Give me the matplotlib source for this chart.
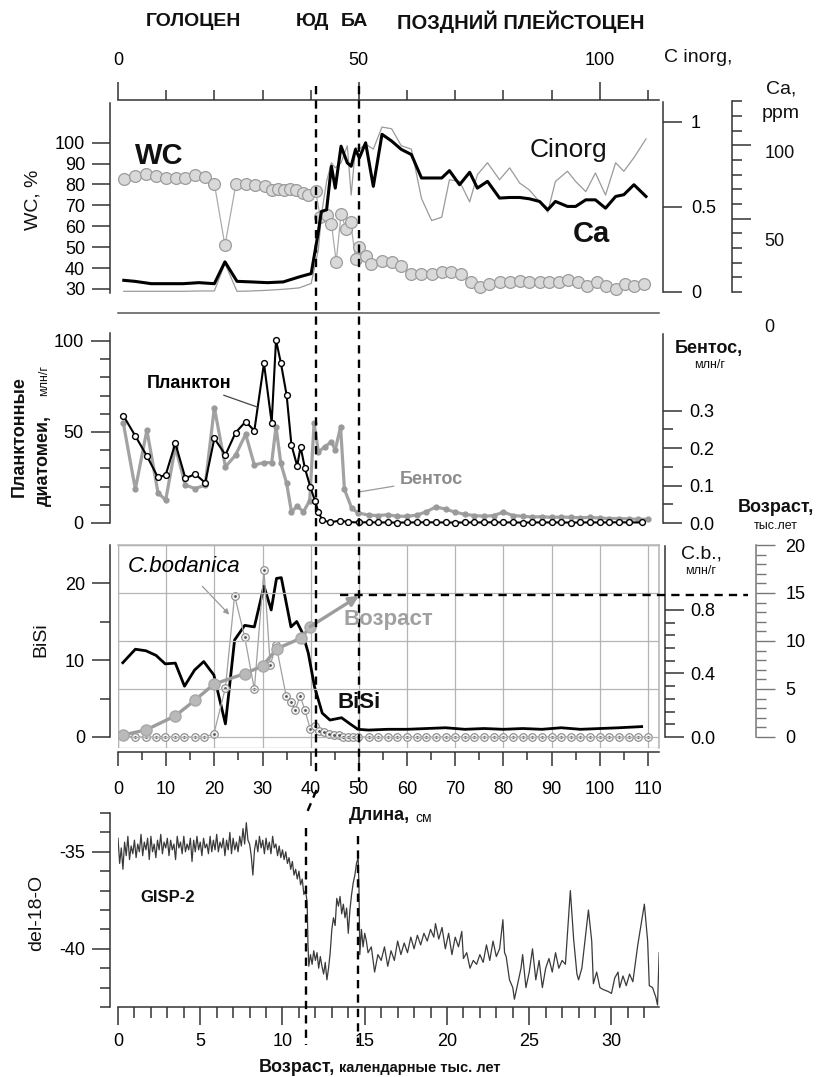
import matplotlib
matplotlib.use('Agg')
import matplotlib.pyplot as plt
import matplotlib.transforms as mtransforms
from matplotlib.lines import Line2D
from matplotlib.patches import Rectangle
from matplotlib.ticker import MultipleLocator, FixedLocator

plt.rcParams['font.family'] = ['Liberation Sans Narrow', 'Liberation Sans', 'DejaVu Sans']
plt.rcParams['axes.unicode_minus'] = False
WIDE = ['Liberation Sans', 'DejaVu Sans']

# ---- panel 1: water content, Ca, C inorg vs depth (cm)
wc_cm = [1.2, 3.5, 5.8, 7.9, 9.9, 12.0, 14.0, 16.0, 18.0, 20.0, 22.2, 24.5, 26.5, 28.5,
         30.5, 32.0, 33.3, 34.5, 35.8, 37.0, 38.3, 39.5, 41.0, 42.0, 43.3, 44.3, 45.3,
         46.3, 47.3, 48.3, 49.3, 50.1, 51.4, 52.6, 54.8, 56.8, 58.8, 60.9, 63.0, 65.1,
         67.2, 69.2, 71.1, 73.2, 75.1, 77.1, 79.2, 81.3, 83.4, 85.4, 87.5, 89.4, 91.5,
         93.5, 95.4, 97.3, 99.4, 101.2, 103.3, 105.2, 107.1, 109.1]
wc = [82.8, 84.0, 85.0, 84.0, 83.0, 83.0, 83.0, 84.4, 83.6, 80.4, 50.8, 80.4, 80.4, 79.6,
      79.3, 77.2, 78.0, 77.2, 78.0, 77.2, 76.0, 74.8, 77.0, 64.4, 65.2, 61.2, 43.0,
      66.0, 58.8, 62.0, 44.4, 50.0, 46.0, 42.0, 43.6, 43.0, 41.2, 37.2, 37.2, 37.2,
      38.3, 38.0, 37.2, 33.2, 30.8, 32.4, 33.2, 33.5, 34.0, 33.5, 33.5, 33.5, 33.5,
      34.5, 33.5, 31.6, 33.2, 31.6, 30.0, 32.4, 31.6, 32.4]

ca_cm = [1.2, 3.5, 6.9, 10.2, 13.5, 16.8, 20.0, 22.2, 24.7, 27.7, 31.0, 34.3, 37.6, 40.1,
         41.6, 42.2, 43.3, 44.3, 45.1, 46.3, 47.6, 48.4, 49.3, 50.1, 51.4, 53.0, 54.8,
         56.8, 58.8, 60.9, 63.0, 65.1, 67.2, 68.8, 70.9, 73.0, 74.6, 76.7, 79.2, 81.3,
         83.4, 85.4, 87.5, 89.2, 90.8, 93.3, 95.0, 97.1, 99.1, 101.2, 103.3, 105.0,
         107.1, 109.6]
ca = [8.0, 7.3, 5.7, 5.7, 5.7, 6.4, 5.7, 20.6, 7.3, 6.9, 6.4, 6.9, 10.3, 12.6,
      41.2, 54.9, 56.1, 85.8, 70.9, 99.5, 88.1, 85.8, 97.3, 91.5, 101.8, 72.1, 107.6,
      103.0, 97.3, 93.8, 77.8, 77.8, 77.8, 82.8, 73.2, 81.7, 70.9, 75.5, 64.1, 64.5,
      64.5, 63.6, 61.8, 56.1, 61.8, 58.4, 58.4, 62.9, 62.9, 57.2, 65.2, 66.4,
      73.2, 65.2]
cinorg = [0.004, 0.004, 0.004, 0.004, 0.004, 0.006, 0.006, 0.168, 0.004, 0.006, 0.01,
          0.016, 0.024, 0.05, 0.25, 0.45, 0.65, 0.76, 0.73, 0.76, 0.86, 0.57, 0.85, 0.84,
          0.87, 0.84, 0.97, 0.96, 0.86, 0.84, 0.55, 0.42, 0.44, 0.66, 0.65, 0.53, 0.69,
          0.76, 0.66, 0.73, 0.64, 0.60, 0.53, 0.47, 0.65, 0.71, 0.65, 0.59, 0.70, 0.57,
          0.76, 0.71, 0.79, 0.90]

# ---- panel 2: diatoms
pl_cm = [1.1, 3.6, 6.0, 8.3, 9.9, 11.9, 14.0, 16.0, 18.1, 20.0, 22.3, 24.4, 26.5, 28.3,
         30.3, 31.9, 32.8, 33.8, 35.0, 36.0, 37.2, 37.9, 38.8, 39.9, 40.9, 41.6, 42.4,
         44.0, 46.0, 47.8, 50, 52, 54, 56, 58, 60, 62, 64, 66, 68, 70, 72, 74, 76, 78,
         80, 82, 84, 86, 88, 90, 92, 94, 96, 98, 100, 102, 104, 106, 108.7]
plankton = [59, 47.8, 36.8, 25, 26.4, 43.8, 24.5, 26.9, 22.1, 46.5, 37.4, 49.6, 55.7, 50.7,
            87.7, 55.1, 100.5, 88, 70.3, 42.9, 31.3, 41.9, 30, 20, 12, 6, 1.6,
            0.3, 1.3, 0.5, 0.3, 0.4, 0.3, 0.3, 0.2, 0.3, 0.3, 0.4, 0.3, 0.3, 0.2, 0.3, 0.3,
            0.3, 0.4, 0.3, 0.3, 0.2, 0.3, 0.3, 0.3, 0.3, 0.2, 0.3, 0.3, 0.3, 0.3, 0.4, 0.3, 0.3]

bn_cm = [1.1, 3.6, 6.0, 8.3, 9.9, 11.9, 14.0, 16.0, 18.1, 20.0, 22.3, 24.4, 26.5, 28.3,
         30.3, 31.9, 32.8, 33.8, 35.0, 36.0, 37.2, 38.5, 39.8, 40.7, 41.6, 42.9, 44.3,
         45.1, 46.2, 47.0, 48.5, 49.8, 52, 54, 56, 58, 60, 62, 64, 66, 68, 70, 72, 74,
         76, 78, 80, 82, 84, 86, 88, 90, 92, 94, 96, 98, 100, 102, 104, 106, 108, 110]
benthos = [0.267, 0.09, 0.248, 0.081, 0.061, 0.203, 0.101, 0.092, 0.101, 0.308, 0.150,
           0.181, 0.237, 0.155, 0.161, 0.161, 0.257, 0.159, 0.106, 0.03, 0.045, 0.03, 0.06,
           0.267, 0.19, 0.203, 0.217, 0.195, 0.257, 0.09, 0.04, 0.027, 0.021, 0.02, 0.022,
           0.018, 0.018, 0.021, 0.03, 0.043, 0.037, 0.029, 0.023, 0.02, 0.018, 0.02, 0.029,
           0.02, 0.018, 0.016, 0.017, 0.015, 0.016, 0.015, 0.014, 0.015, 0.013, 0.012,
           0.012, 0.011, 0.010, 0.010]

# ---- panel 3: BiSi, C. bodanica, age model
bs_cm = [1.0, 3.6, 5.8, 7.9, 9.8, 11.9, 13.8, 15.9, 17.8, 19.9, 22.3, 24.2, 26.3, 28.3,
         30.3, 31.8, 32.9, 33.9, 35.9, 37.1, 38.3, 39.5, 40.8, 42.4, 44.0, 46.4, 48.4,
         49.8, 52, 56, 60, 64, 68, 72, 76, 80, 84, 88, 92, 96, 100, 104, 108.7]
bisi = [9.65, 11.4, 11.2, 10.6, 9.5, 9.6, 6.6, 8.7, 9.8, 8.05, 1.7, 12.6, 14.5, 14.3,
        19.6, 16.5, 20.6, 20.7, 14.3, 15.0, 13.5, 10.9, 6.5, 3.1, 2.2, 2.5, 1.6,
        1.0, 0.9, 1.0, 1.0, 1.1, 1.2, 1.0, 1.1, 1.0, 1.1, 1.0, 1.2, 1.0, 1.1, 1.2, 1.35]

cb_cm = [1.0, 3.6, 5.8, 7.9, 9.8, 11.9, 13.8, 15.9, 17.8, 19.9, 22.3, 24.2, 26.3, 28.3,
         30.3, 31.6, 32.8, 34.9, 35.9, 36.8, 37.8, 38.8, 39.9, 40.8, 41.8, 42.8, 43.8,
         44.8, 45.8, 46.8, 47.8, 48.8, 49.8, 52, 54, 56, 58, 60, 62, 64, 66, 68, 70, 72,
         74, 76, 78, 80, 82, 84, 86, 88, 90, 92, 94, 96, 98, 100, 102, 104, 106, 108, 110]
cbod = [0.01, 0, 0, 0, 0, 0, 0, 0, 0, 0.02, 0.31, 0.89, 0.63, 0.30,
        1.05, 0.45, 0.58, 0.26, 0.22, 0.17, 0.26, 0.17, 0.05, 0.07, 0.04, 0.03, 0.02,
        0.01, 0.01, 0, 0, 0, 0, 0, 0, 0, 0, 0, 0, 0, 0, 0, 0, 0,
        0, 0, 0, 0, 0, 0, 0, 0, 0, 0, 0, 0, 0, 0, 0, 0, 0, 0, 0]

ag_cm = [1.0, 5.8, 11.9, 15.9, 19.9, 26.3, 30.0, 33.0, 38.0, 39.9]
ag_ka = [0.2, 0.73, 2.2, 3.8, 5.5, 6.6, 7.4, 9.2, 10.3, 11.5]

# boundaries: Younger Dryas / Bolling-Allerod
YD_CM, BA_CM = 41.2, 50.0
YD_KA, BA_KA = 11.45, 14.6

# ---- panel 4: GISP-2 del-18-O
gisp_age = [
    0.0, 0.1, 0.2, 0.3, 0.4, 0.5, 0.6, 0.7, 0.8, 0.9,
    1.0, 1.1, 1.2, 1.3, 1.4, 1.5, 1.6, 1.7, 1.8, 1.9,
    2.0, 2.1, 2.2, 2.3, 2.4, 2.5, 2.6, 2.7, 2.8, 2.9,
    3.0, 3.1, 3.2, 3.3, 3.4, 3.5, 3.6, 3.7, 3.8, 3.9,
    4.0, 4.1, 4.2, 4.3, 4.4, 4.5, 4.6, 4.7, 4.8, 4.9,
    5.0, 5.1, 5.2, 5.3, 5.4, 5.5, 5.6, 5.7, 5.8, 5.9,
    6.0, 6.1, 6.2, 6.3, 6.4, 6.5, 6.6, 6.7, 6.8, 6.9,
    7.0, 7.1, 7.2, 7.3, 7.4, 7.5, 7.6, 7.7, 7.8, 7.9,
    8.0, 8.1, 8.2, 8.3, 8.4, 8.5, 8.6, 8.7, 8.8, 8.9,
    9.0, 9.1, 9.2, 9.3, 9.4, 9.5, 9.6, 9.7, 9.8, 9.9,
    10.0, 10.1, 10.2, 10.3, 10.4, 10.5, 10.6, 10.7, 10.8, 10.9,
    11.0, 11.1, 11.2, 11.3, 11.4,
    11.5, 11.55, 11.6, 11.7, 11.8, 11.9, 12.0, 12.1, 12.2, 12.3, 12.4, 12.5, 12.6,
    12.7, 12.8, 12.9, 13.0, 13.1, 13.2, 13.3, 13.4, 13.5, 13.6, 13.7, 13.8, 13.9,
    14.0, 14.1, 14.2, 14.3, 14.4, 14.5, 14.6, 14.65, 14.7, 14.8, 14.9, 15.0, 15.1,
    15.2, 15.4, 15.6, 15.8, 16.0, 16.2, 16.4, 16.6, 16.8, 17.0, 17.2, 17.4, 17.6,
    17.8, 18.0, 18.2, 18.4, 18.6, 18.8, 19.0, 19.2, 19.3, 19.5, 19.7, 19.9, 20.1,
    20.3, 20.5, 20.7, 20.9, 21.0, 21.2, 21.4, 21.6, 21.8, 22.0, 22.2, 22.4, 22.6,
    22.8, 23.0, 23.2, 23.4, 23.5, 23.6, 23.8, 24.0, 24.1, 24.3, 24.5, 24.6, 24.8,
    25.0, 25.2, 25.4, 25.6, 25.8, 26.0, 26.2, 26.4, 26.6, 26.8, 27.0, 27.2, 27.5,
    27.7, 27.9, 28.0, 28.2, 28.4, 28.6, 28.8, 28.9, 29.1, 29.3, 29.5, 29.8, 30.0,
    30.2, 30.4, 30.5, 30.7, 30.9, 31.1, 31.3, 31.6, 32.0, 32.2, 32.3, 32.5, 32.7,
    32.8, 32.9]
gisp_d18o = [
    -34.3, -35.6, -34.8, -35.9, -34.5, -35.2, -34.2, -35.4, -34.7, -35.1,
    -34.4, -35.3, -34.6, -35.0, -34.1, -35.2, -34.5, -34.9, -34.3, -35.4,
    -34.2, -35.0, -34.6, -35.3, -34.4, -34.9, -34.1, -35.1, -34.5, -34.8,
    -34.3, -35.2, -34.4, -34.9, -34.6, -35.4, -34.2, -34.8, -34.5, -35.1,
    -34.2, -35.0, -34.6, -34.9, -34.3, -35.5, -34.4, -35.0, -34.2, -34.9,
    -34.5, -35.2, -34.3, -34.8, -34.6, -35.1, -34.2, -35.0, -34.4, -34.9,
    -34.1, -35.0, -34.5, -34.8, -34.3, -35.2, -34.4, -34.9, -34.0, -35.1,
    -34.3, -34.9, -34.5, -35.0, -34.2, -34.7, -33.8, -34.6, -33.5, -34.4,
    -34.6, -35.2, -36.2, -34.9, -34.4, -35.0, -34.2, -34.8, -34.4, -35.1,
    -34.3, -34.9, -34.5, -35.1, -34.2, -34.8, -34.6, -35.2, -34.7, -35.3,
    -34.9, -35.4, -35.0, -35.6, -35.3, -35.9, -35.5, -36.2, -35.9, -36.4,
    -36.0, -36.7, -36.4, -37.2, -37.0,
    -37.6, -39.8, -40.9, -40.3, -40.8, -40.1, -40.6, -40.2, -41.0, -40.4, -40.9, -41.3, -40.7,
    -41.6, -41.0, -40.2, -39.0, -38.4, -38.8, -37.4, -37.8, -37.3, -38.2, -37.7, -38.4, -37.9,
    -39.2, -38.0, -37.2, -36.6, -36.2, -35.6, -35.3, -36.8, -40.3, -39.0, -39.9, -39.2, -39.6,
    -40.2, -39.9, -41.2, -40.3, -40.6, -39.9, -40.9, -40.1, -40.6, -39.6, -40.3, -39.7, -40.2,
    -39.4, -40.0, -39.3, -39.8, -39.2, -39.6, -39.0, -39.4, -38.7, -39.5, -38.9, -40.0, -39.2,
    -40.3, -39.4, -39.9, -39.1, -40.5, -40.2, -41.0, -40.6, -40.8, -40.3, -40.7, -39.8, -40.6,
    -39.6, -40.4, -40.0, -38.5, -40.2, -40.4, -41.6, -42.0, -42.6, -41.8, -41.0, -40.3, -42.0,
    -41.2, -40.0, -41.6, -40.6, -42.0, -41.0, -40.5, -41.2, -40.2, -41.0, -40.6, -40.8, -37.0,
    -39.5, -41.3, -41.6, -41.0, -39.5, -38.0, -39.6, -41.8, -41.2, -42.0, -42.1, -42.2, -42.3,
    -41.5, -41.2, -42.0, -41.4, -41.9, -41.3, -41.7, -39.8, -37.7, -39.6, -41.9, -42.0, -42.5,
    -42.9, -40.2]

# ---------------------------------------------------------------- layout helpers
W, H = 826, 1077
fig = plt.figure(figsize=(W / 100, H / 100), dpi=100)
DARK = '#333333'
GRID = '#b4b4b4'
GRAY = '#a2a2a2'
PT = 0.72  # points per pixel at dpi 100


def box(x0, y0, x1, y1):
    return [x0 / W, 1 - y1 / H, (x1 - x0) / W, (y1 - y0) / H]


def put(x, y, s, **kw):
    kw.setdefault('ha', 'center')
    kw.setdefault('va', 'center')
    kw.setdefault('color', '#111111')
    return fig.text(x / W, 1 - y / H, s, **kw)


def only(ax, *names):
    for k, sp in ax.spines.items():
        sp.set_visible(k in names)
        sp.set_color(DARK)
        sp.set_linewidth(1.1)


def shift(ax, side, px):
    ax.spines[side].set_position(('outward', px * PT))


def fy(py):
    return 1 - py / H


XMAX = 112.3

# ---------------------------------------------------------------- panel 1
ax1 = fig.add_axes(box(118, 100, 659, 313))
ax1.set_xlim(0, XMAX)
ax1.set_ylim(18.5, 120.4)
only(ax1, 'top', 'left', 'bottom')
ax1.spines['bottom'].set_color('#555555')
shift(ax1, 'left', 8)
ax1.spines['left'].set_bounds(28.1, 119)
ax1.xaxis.tick_top()
ax1.set_xticks([0, 50, 100])
ax1.xaxis.set_minor_locator(MultipleLocator(10))
ax1.tick_params(axis='x', which='major', length=13, width=1.1, pad=9, labelsize=13, color=DARK)
ax1.tick_params(axis='x', which='minor', length=7, width=1.1, color=DARK)
ax1.set_yticks(range(30, 101, 10))
ax1.tick_params(axis='y', length=13, width=1.1, pad=5, labelsize=13, color=DARK)
ax1.plot(wc_cm, wc, '-o', color='#ababab', lw=0.9, ms=8.5, mfc='#d9d9d9', mec='#9c9c9c', mew=0.9)

ax_ci = ax1.twinx()
ax_ci.set_ylim(-0.1235, 1.129)
only(ax_ci, 'right')
shift(ax_ci, 'right', 4)
ax_ci.spines['right'].set_bounds(0, 1.118)
ax_ci.set_yticks([0, 0.5, 1])
ax_ci.set_yticklabels(['0', '0.5', '1'])
ax_ci.tick_params(axis='y', length=14, width=1.1, pad=6, labelsize=13, color=DARK)
ax_ci.plot(ca_cm, cinorg, color='#9a9a9a', lw=0.9)

ax_ca = ax1.twinx()
ax_ca.set_ylim(-14.3, 131)
only(ax_ca, 'right')
shift(ax_ca, 'right', 73)
ax_ca.spines['right'].set_bounds(0, 130)
ax_ca.set_yticks([50, 100])
ax_ca.yaxis.set_minor_locator(FixedLocator(range(0, 131, 10)))
ax_ca.set_yticklabels([])
ax_ca.tick_params(axis='y', which='major', length=14, width=1.1, color=DARK)
ax_ca.tick_params(axis='y', which='minor', length=7, width=1.1, color=DARK)
ax_ca.plot(ca_cm, ca, color='black', lw=2.2)

put(780, 153, '100', fontsize=13)
put(774, 241, '50', fontsize=13)
put(769, 327, '0', fontsize=13)
put(781, 89, 'Ca,', fontsize=14)
put(781, 113, 'ppm', fontsize=14)
put(698, 57, 'C inorg,', fontsize=14)
put(33, 200, 'WC, %', rotation=90, fontsize=14, family=WIDE)

put(159, 156, 'WC', fontsize=21, fontweight='bold')
put(568, 150, 'Cinorg', fontsize=19, family=WIDE)
put(591, 234, 'Ca', fontsize=21, fontweight='bold', family=WIDE)

put(193, 22, 'ГОЛОЦЕН', fontsize=14, fontweight='bold')
put(312, 22, 'ЮД', fontsize=14, fontweight='bold')
put(354, 22, 'БА', fontsize=14, fontweight='bold')
put(521, 22, 'ПОЗДНИЙ ПЛЕЙСТОЦЕН', fontsize=14.5, fontweight='bold')

# ---------------------------------------------------------------- panel 2
ax2 = fig.add_axes(box(118, 318, 659, 535))
ax2.set_xlim(0, XMAX)
ax2.set_ylim(-6.6, 112.6)
only(ax2, 'left')
shift(ax2, 'left', 8)
ax2.spines['left'].set_bounds(0, 104.4)
ax2.set_xticks([])
ax2.set_yticks([0, 50, 100])
ax2.yaxis.set_minor_locator(FixedLocator(range(0, 101, 10)))
ax2.tick_params(axis='y', which='major', length=14, width=1.1, pad=5, labelsize=13, color=DARK)
ax2.tick_params(axis='y', which='minor', length=7, width=1.1, color=DARK)
ax2.patch.set_visible(False)

ax_bn = ax2.twinx()
ax_bn.set_zorder(ax2.get_zorder() - 1)
ax_bn.set_ylim(-0.032, 0.547)
only(ax_bn, 'right')
shift(ax_bn, 'right', 4)
ax_bn.spines['right'].set_bounds(0, 0.504)
ax_bn.set_yticks([0, 0.1, 0.2, 0.3])
ax_bn.set_yticklabels(['0.0', '0.1', '0.2', '0.3'])
ax_bn.yaxis.set_minor_locator(FixedLocator([0.05, 0.15, 0.25]))
ax_bn.tick_params(axis='y', which='major', length=14, width=1.1, pad=5, labelsize=13, color=DARK)
ax_bn.tick_params(axis='y', which='minor', length=7, width=1.1, color=DARK)
ax_bn.plot(bn_cm, benthos, '-o', color=GRAY, lw=2.3, ms=3.5, mfc='#9a9a9a', mec='#9a9a9a')

ax2.plot(pl_cm, plankton, '-o', color='black', lw=1.5, ms=4.2, mfc='white', mec='black', mew=1.0)

ax2.annotate('Планктон', xy=(28.9, 63.7), xytext=(189, H - 383), textcoords='figure pixels',
             ha='center', va='center', fontsize=13, fontweight='bold', family=WIDE,
             arrowprops=dict(arrowstyle='-', color='#444444', lw=0.9, shrinkA=2, shrinkB=0))
ax_bn.annotate('Бентос', xy=(50.1, 0.083), xytext=(431, H - 480), textcoords='figure pixels',
               ha='center', va='center', fontsize=13, fontweight='bold', family=WIDE, color='#8c8c8c',
               arrowprops=dict(arrowstyle='-', color='#9a9a9a', lw=0.9, shrinkA=2, shrinkB=0))

put(709, 348, 'Бентос,', fontsize=13, fontweight='bold', family=WIDE)
put(710, 365, 'млн/г', fontsize=9)
put(19, 437, 'Планктонные', rotation=90, fontsize=13, fontweight='bold', family=WIDE)
put(43, 461, 'диатомеи,', rotation=90, fontsize=13, fontweight='bold', family=WIDE)
put(44, 381, 'млн/г', rotation=90, fontsize=9)

# ---------------------------------------------------------------- panel 3
ax3 = fig.add_axes(box(118, 545, 659, 748))
ax3.set_xlim(0, XMAX)
ax3.set_ylim(-1.43, 24.94)
only(ax3, 'left', 'bottom', 'top', 'right')
ax3.spines['top'].set_color(GRID)
ax3.spines['right'].set_color(GRID)
shift(ax3, 'left', 8)
ax3.spines['left'].set_bounds(0, 24.9)
shift(ax3, 'bottom', 4)
ax3.add_patch(Rectangle((0, 0), 1, 1, transform=ax3.transAxes, fill=False,
                        edgecolor=GRID, lw=1.0, zorder=0.5))
ax3.xaxis.set_major_locator(MultipleLocator(10))
ax3.xaxis.set_minor_locator(MultipleLocator(5))
ax3.tick_params(axis='x', which='major', length=10, width=1.1, pad=11, labelsize=13, color=DARK)
ax3.tick_params(axis='x', which='minor', length=6, width=1.1, color=DARK)
ax3.set_yticks([0, 10, 20])
ax3.yaxis.set_minor_locator(FixedLocator([5, 15]))
ax3.tick_params(axis='y', which='major', length=13, width=1.1, pad=5, labelsize=13, color=DARK)
ax3.tick_params(axis='y', which='minor', length=7, width=1.1, color=DARK)
ax3.grid(axis='x', color=GRID, lw=0.9)
ax3.set_axisbelow(True)
ax3.plot(bs_cm, bisi, color='black', lw=2.0, zorder=3)

ax_cb = ax3.twinx()
ax_cb.set_ylim(-0.069, 1.208)
only(ax_cb, 'right')
shift(ax_cb, 'right', 6)
ax_cb.spines['right'].set_bounds(0, 1.2)
ax_cb.set_yticks([0, 0.4, 0.8])
ax_cb.set_yticklabels(['0.0', '0.4', '0.8'])
ax_cb.yaxis.set_minor_locator(FixedLocator([0.08, 0.16, 0.24, 0.32, 0.48, 0.56, 0.64, 0.72]))
ax_cb.tick_params(axis='y', which='major', length=14, width=1.1, pad=4, labelsize=13, color=DARK)
ax_cb.tick_params(axis='y', which='minor', length=7, width=1.1, color=DARK)
ax_cb.plot(cb_cm, cbod, '-o', color='#a0a0a0', lw=0.9, ms=5.5, mfc='#f2f2f2', mec='#8a8a8a', mew=0.8)
ax_cb.plot(cb_cm, cbod, '.', color='#555555', ms=2)

ax_age = ax3.twinx()
ax_age.set_ylim(-1.15, 20.0)
only(ax_age, 'right')
shift(ax_age, 'right', 97)
ax_age.spines['right'].set_bounds(0, 20)
ax_age.spines['right'].set_color('#777777')
ax_age.yaxis.set_major_locator(FixedLocator([0, 5, 10, 15, 20]))
ax_age.yaxis.set_minor_locator(FixedLocator(range(0, 21)))
ax_age.tick_params(axis='y', which='major', length=14, width=1.0, pad=7, labelsize=13, color='#777777')
ax_age.tick_params(axis='y', which='minor', length=7, width=1.0, color='#777777')
ax_age.grid(axis='y', which='major', color=GRID, lw=0.9)
ax_age.plot(ag_cm, ag_ka, '-o', color='#9c9c9c', lw=2.4, ms=8, mfc='#b9b9b9', mec='#a8a8a8')
ax_age.annotate('', xy=(BA_CM, BA_KA + 0.1), xytext=(ag_cm[-1], ag_ka[-1]),
                arrowprops=dict(arrowstyle='-|>', color='#9c9c9c', lw=2.4, mutation_scale=14,
                                shrinkA=0, shrinkB=0))

ax_cb.annotate('C.bodanica', xy=(23.1, 0.77), xytext=(184, H - 567), textcoords='figure pixels',
               ha='center', va='center', fontsize=16, fontstyle='italic', family=WIDE,
               arrowprops=dict(arrowstyle='-|>', color='#999999', lw=0.9, mutation_scale=8,
                               shrinkA=6, shrinkB=0))
put(359, 703, 'BiSi', fontsize=16, fontweight='bold', family=WIDE)
put(388, 620, 'Возраст', fontsize=16, fontweight='bold', family=WIDE, color='#a0a0a0')
put(701, 554, 'C.b.,', fontsize=14)
put(701, 571, 'млн/г', fontsize=9)
put(776, 507, 'Возраст,', fontsize=13, fontweight='bold', family=WIDE)
put(776, 526, 'тыс.лет', fontsize=9)
put(41, 640, 'BiSi', rotation=90, fontsize=14, family=WIDE)
put(410, 815, 'Длина,', fontsize=13, fontweight='bold', family=WIDE, ha='right')
put(415, 818, 'см', fontsize=10, ha='left')

# ---------------------------------------------------------------- panel 4
ax4 = fig.add_axes(box(118, 813, 659, 1007))
ax4.set_xlim(0, 32.89)
ax4.set_ylim(-43, -33)
only(ax4, 'left', 'bottom')
shift(ax4, 'left', 8)
ax4.xaxis.set_major_locator(MultipleLocator(5))
ax4.xaxis.set_minor_locator(MultipleLocator(1))
ax4.tick_params(axis='x', which='major', length=13, width=1.1, pad=6, labelsize=13, color=DARK)
ax4.tick_params(axis='x', which='minor', length=8, width=1.1, color=DARK)
ax4.set_yticks([-40, -35])
ax4.yaxis.set_minor_locator(MultipleLocator(1))
ax4.tick_params(axis='y', which='major', length=13, width=1.1, pad=5, labelsize=13, color=DARK)
ax4.tick_params(axis='y', which='minor', length=7, width=1.1, color=DARK)
ax4.plot(gisp_age, gisp_d18o, color='#3a3a3a', lw=0.9)

put(168, 897, 'GISP-2', fontsize=12, fontweight='bold', family=WIDE)
put(37, 913, 'del-18-O', rotation=90, fontsize=14, family=WIDE)
put(335, 1067, 'Возраст,', fontsize=13, fontweight='bold', family=WIDE, ha='right')
put(339, 1068, 'календарные тыс. лет', fontsize=10.5, fontweight='bold', family=WIDE, ha='left')

# ---------------------------------------------------------------- boundary lines
dash = dict(color='black', lw=1.7, ls=(0, (3.5, 2.6)))
top_tr = mtransforms.blended_transform_factory(ax3.transData, fig.transFigure)
bot_tr = mtransforms.blended_transform_factory(ax4.transData, fig.transFigure)
fig.add_artist(Line2D([YD_CM, YD_CM], [fy(86), fy(772)], transform=top_tr, **dash))
fig.add_artist(Line2D([BA_CM, BA_CM], [fy(86), fy(782)], transform=top_tr, **dash))
fig.add_artist(Line2D([YD_KA, YD_KA], [fy(828), fy(1045)], transform=bot_tr, **dash))
fig.add_artist(Line2D([BA_KA, BA_KA], [fy(836), fy(1043)], transform=bot_tr, **dash))

to_fig = fig.transFigure.inverted()
x_yd_top = to_fig.transform(ax3.transData.transform((YD_CM, 0)))[0]
x_yd_bot = to_fig.transform(ax4.transData.transform((YD_KA, 0)))[0]
fig.add_artist(Line2D([x_yd_top, x_yd_bot], [fy(790), fy(814)], transform=fig.transFigure, **dash))

# horizontal dashed line at the age of the BA boundary
age_tr = mtransforms.blended_transform_factory(fig.transFigure, ax_age.transData)
x_start = to_fig.transform(ax3.transData.transform((46.0, 0)))[0]
fig.add_artist(Line2D([x_start, 748 / W], [BA_KA + 0.15, BA_KA + 0.15], transform=age_tr, **dash))

fig.savefig('out.png', dpi=100)
